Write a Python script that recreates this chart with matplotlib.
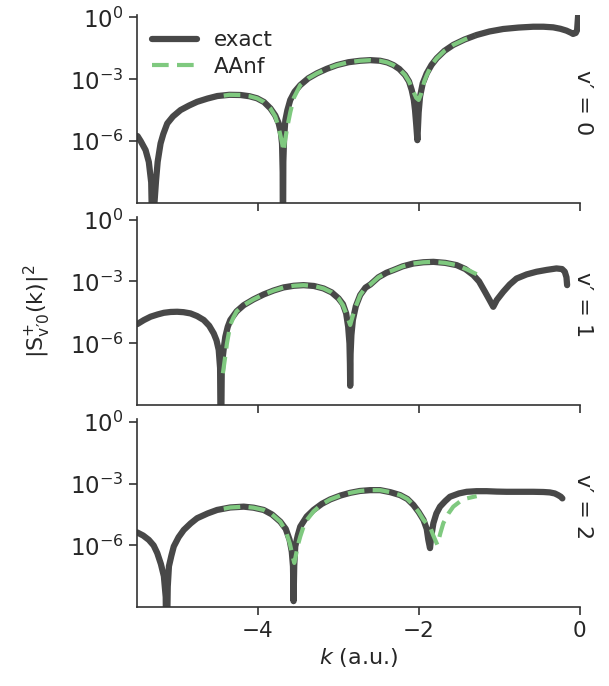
import numpy as np
import matplotlib
matplotlib.use("Agg")
import matplotlib.pyplot as plt

plt.rcParams['font.family'] = ['DejaVu Sans']
plt.rcParams['mathtext.default'] = 'regular'

# values: k (a.u.) and log10 |S|^2
# v' = 0
k0_exact = [-5.49, -5.45, -5.39, -5.35, -5.32, -5.30, -5.28, -5.26, -5.24, -5.22, -5.204, -5.17,
            -5.121, -5.05, -4.956, -4.85, -4.75, -4.62, -4.50, -4.35, -4.21, -4.10, -4.006, -3.92,
            -3.84, -3.78, -3.737, -3.71, -3.696, -3.688, -3.685, -3.68, -3.67, -3.655, -3.63,
            -3.594, -3.54, -3.47, -3.37, -3.263, -3.14, -3.015, -2.87, -2.726, -2.60, -2.478,
            -2.39, -2.313, -2.24, -2.169, -2.12, -2.086, -2.06, -2.045, -2.03, -2.016, -2.00,
            -1.983, -1.95, -1.90, -1.84, -1.776, -1.68, -1.57, -1.43, -1.28, -1.12, -0.95,
            -0.76, -0.578, -0.45, -0.33, -0.24, -0.165, -0.11, -0.083, -0.05, -0.033, -0.02]
lg0_exact = [-5.75, -6.0, -6.43, -7.0, -8.0, -12.0, -9.0, -7.9, -7.0, -6.5, -6.11, -5.65,
             -5.14, -4.8, -4.49, -4.27, -4.09, -3.93, -3.81, -3.75, -3.76, -3.82, -3.92, -4.10,
             -4.41, -4.75, -5.14, -5.6, -6.11, -7.5, -12.0, -7.0, -5.8, -4.98, -4.5,
             -4.0, -3.6, -3.28, -2.95, -2.71, -2.49, -2.31, -2.17, -2.10, -2.07, -2.10,
             -2.18, -2.31, -2.5, -2.79, -3.1, -3.52, -4.0, -4.49, -5.2, -5.95, -4.6,
             -3.84, -3.2, -2.71, -2.3, -1.98, -1.62, -1.33, -1.07, -0.85, -0.68, -0.56,
             -0.49, -0.45, -0.45, -0.48, -0.55, -0.64, -0.74, -0.80, -0.75, -0.61, 0.12]
k0_aanf = [-4.42, -4.35, -4.21, -4.10, -4.006, -3.92, -3.84, -3.78, -3.74, -3.70, -3.676, -3.66,
           -3.63, -3.594, -3.55, -3.47, -3.37, -3.263, -3.14, -3.015, -2.87, -2.726, -2.60,
           -2.478, -2.39, -2.313, -2.24, -2.169, -2.12, -2.07, -2.03, -2.00, -1.97, -1.93,
           -1.90, -1.84, -1.776, -1.68, -1.57, -1.43, -1.30]
lg0_aanf = [-3.79, -3.75, -3.76, -3.82, -3.92, -4.10, -4.41, -4.8, -5.3, -6.0, -6.5, -6.0,
            -5.3, -4.6, -3.9, -3.28, -2.95, -2.71, -2.49, -2.31, -2.17, -2.10, -2.07,
            -2.10, -2.18, -2.31, -2.5, -2.79, -3.1, -3.55, -3.9, -4.0, -3.7, -3.1,
            -2.8, -2.3, -1.98, -1.62, -1.33, -1.07, -0.87]

# v' = 1
k1_exact = [-5.494, -5.41, -5.328, -5.24, -5.163, -5.08, -4.998, -4.92, -4.833, -4.75, -4.668,
            -4.60, -4.544, -4.51, -4.482, -4.465, -4.455, -4.445, -4.43, -4.415, -4.40, -4.37,
            -4.338, -4.26, -4.172, -4.05, -3.924, -3.80, -3.677, -3.55, -3.429, -3.30, -3.181,
            -3.08, -2.995, -2.94, -2.90, -2.875, -2.859, -2.853, -2.850, -2.845, -2.835, -2.817,
            -2.78, -2.726, -2.66, -2.60, -2.50, -2.40, -2.313, -2.20, -2.065, -1.94, -1.817,
            -1.67, -1.528, -1.42, -1.322, -1.25, -1.177, -1.12, -1.074, -1.03, -0.95, -0.87,
            -0.785, -0.66, -0.537, -0.41, -0.289, -0.22, -0.186, -0.165, -0.157]
lg1_exact = [-5.07, -4.87, -4.71, -4.60, -4.52, -4.48, -4.47, -4.49, -4.55, -4.68, -4.87,
             -5.15, -5.52, -5.85, -6.32, -7.2, -12.0, -7.5, -6.6, -6.1, -5.68, -5.2,
             -4.87, -4.45, -4.15, -3.87, -3.63, -3.44, -3.29, -3.21, -3.18, -3.22, -3.34,
             -3.53, -3.82, -4.1, -4.55, -5.2, -6.0, -7.0, -8.06, -6.5, -5.6, -4.87,
             -4.2, -3.66, -3.3, -3.15, -2.80, -2.58, -2.45, -2.27, -2.13, -2.07, -2.05,
             -2.1, -2.21, -2.4, -2.69, -3.0, -3.50, -3.9, -4.23, -3.9, -3.50, -3.15,
             -2.86, -2.66, -2.53, -2.44, -2.37, -2.40, -2.53, -2.8, -3.18]
k1_aanf = [-4.43, -4.40, -4.38, -4.35, -4.338, -4.30, -4.26, -4.172, -4.05, -3.924, -3.80,
           -3.677, -3.55, -3.429, -3.30, -3.181, -3.08, -2.995, -2.94, -2.90, -2.85, -2.82,
           -2.78, -2.726, -2.66, -2.60, -2.50, -2.40, -2.313, -2.20, -2.065, -1.94, -1.817,
           -1.67, -1.528, -1.40, -1.28]
lg1_aanf = [-7.45, -6.6, -6.0, -5.35, -5.1, -4.75, -4.45, -4.15, -3.87, -3.63, -3.44,
            -3.29, -3.21, -3.18, -3.22, -3.34, -3.53, -3.82, -4.15, -4.55, -5.11, -4.7,
            -4.2, -3.66, -3.3, -3.15, -2.80, -2.58, -2.45, -2.27, -2.13, -2.07, -2.05,
            -2.1, -2.21, -2.42, -2.65]

# v' = 2
k2_exact = [-5.494, -5.42, -5.35, -5.29, -5.245, -5.20, -5.163, -5.14, -5.13, -5.115, -5.10,
            -5.07, -5.04, -4.98, -4.916, -4.83, -4.75, -4.62, -4.502, -4.34, -4.172, -4.05,
            -3.924, -3.82, -3.717, -3.65, -3.602, -3.575, -3.56, -3.553, -3.545, -3.532, -3.50,
            -3.47, -3.39, -3.305, -3.20, -3.098, -2.97, -2.850, -2.73, -2.602, -2.478, -2.35,
            -2.23, -2.14, -2.065, -2.00, -1.94, -1.90, -1.88, -1.859, -1.845, -1.817, -1.78,
            -1.735, -1.67, -1.611, -1.50, -1.404, -1.28, -1.156, -1.03, -0.908, -0.75, -0.578,
            -0.45, -0.372, -0.31, -0.269, -0.235, -0.216]
lg2_exact = [-5.37, -5.52, -5.73, -6.0, -6.37, -6.9, -7.49, -8.5, -12.0, -8.0, -7.01,
             -6.5, -6.05, -5.6, -5.25, -4.93, -4.68, -4.45, -4.28, -4.16, -4.12, -4.17,
             -4.28, -4.5, -4.85, -5.2, -5.73, -6.3, -7.01, -8.70, -7.0, -6.05, -5.5,
             -5.09, -4.6, -4.28, -3.98, -3.77, -3.58, -3.45, -3.36, -3.32, -3.32, -3.42,
             -3.56, -3.75, -4.04, -4.38, -4.76, -5.2, -5.73, -6.13, -5.6, -4.92, -4.45,
             -4.12, -3.85, -3.64, -3.48, -3.40, -3.37, -3.37, -3.39, -3.40, -3.40, -3.40,
             -3.41, -3.43, -3.48, -3.56, -3.64, -3.72]
k2_aanf = [-4.42, -4.34, -4.172, -4.05, -3.924, -3.82, -3.717, -3.65, -3.60, -3.56, -3.544,
           -3.52, -3.50, -3.47, -3.43, -3.387, -3.305, -3.20, -3.098, -2.97, -2.850, -2.73,
           -2.602, -2.478, -2.35, -2.23, -2.14, -2.065, -2.00, -1.94, -1.90, -1.859, -1.82,
           -1.768, -1.73, -1.694, -1.63, -1.57, -1.49, -1.404, -1.28]
lg2_aanf = [-4.22, -4.16, -4.12, -4.17, -4.28, -4.5, -4.85, -5.3, -5.9, -6.6, -6.85,
            -6.4, -6.0, -5.57, -5.1, -4.76, -4.35, -4.0, -3.77, -3.58, -3.45, -3.36,
            -3.32, -3.32, -3.42, -3.56, -3.75, -4.04, -4.38, -4.76, -4.95, -5.09, -5.5,
            -5.97, -5.4, -4.92, -4.45, -4.12, -3.88, -3.72, -3.61]

panels = [(k0_exact, lg0_exact, k0_aanf, lg0_aanf, "v\u2032 = 0"),
          (k1_exact, lg1_exact, k1_aanf, lg1_aanf, "v\u2032 = 1"),
          (k2_exact, lg2_exact, k2_aanf, lg2_aanf, "v\u2032 = 2")]

dark = '#484848'
green = '#7fc97f'
ink = '#262626'

fig, axes = plt.subplots(3, 1, figsize=(6.09, 6.86), dpi=100, sharex=True)
fig.subplots_adjust(left=0.2245, right=0.952, top=0.978, bottom=0.1147, hspace=0.075)

for ax, (ke, le, ka, la, lab) in zip(axes, panels):
    ax.plot(ke, 10.0 ** np.array(le), color=dark, lw=4.5, solid_capstyle='round',
            solid_joinstyle='round', label='exact')
    ax.plot(ka, 10.0 ** np.array(la), color=green, lw=3.0, dashes=(4, 2), label='AAnf')
    ax.set_yscale('log')
    ax.set_ylim(1e-9, 1.3)
    ax.set_xlim(-5.5, 0)
    ax.set_yticks([1e-6, 1e-3, 1e0])
    ax.set_yticklabels(['$10^{-6}$', '$10^{-3}$', '$10^{0}$'])
    ax.minorticks_off()
    ax.set_xticks([-4, -2, 0])
    for s in ['top', 'right']:
        ax.spines[s].set_visible(False)
    for s in ['left', 'bottom']:
        ax.spines[s].set_color('#333333')
        ax.spines[s].set_linewidth(1.2)
    ax.tick_params(direction='out', length=6, width=1.2, color='#333333',
                   labelsize=15.5, labelcolor=ink)
    ax.tick_params(axis='y', labelsize=16.5)
    ax.text(1.007, 0.535, lab, transform=ax.transAxes, rotation=-90,
            ha='center', va='center', fontsize=16, color=ink)

leg = axes[0].legend(loc='upper left', frameon=False, fontsize=15.5, handlelength=2.1,
                     borderaxespad=0.3, labelspacing=0.3)
for t in leg.get_texts():
    t.set_color(ink)

axes[1].set_ylabel("$|S^{+}_{v\u20320}(k)|^{2}$", fontsize=16, color=ink, labelpad=12)
axes[2].set_xlabel("$\\mathit{k}$ (a.u.)", fontsize=16, color=ink)

fig.savefig('out.png', dpi=100)
